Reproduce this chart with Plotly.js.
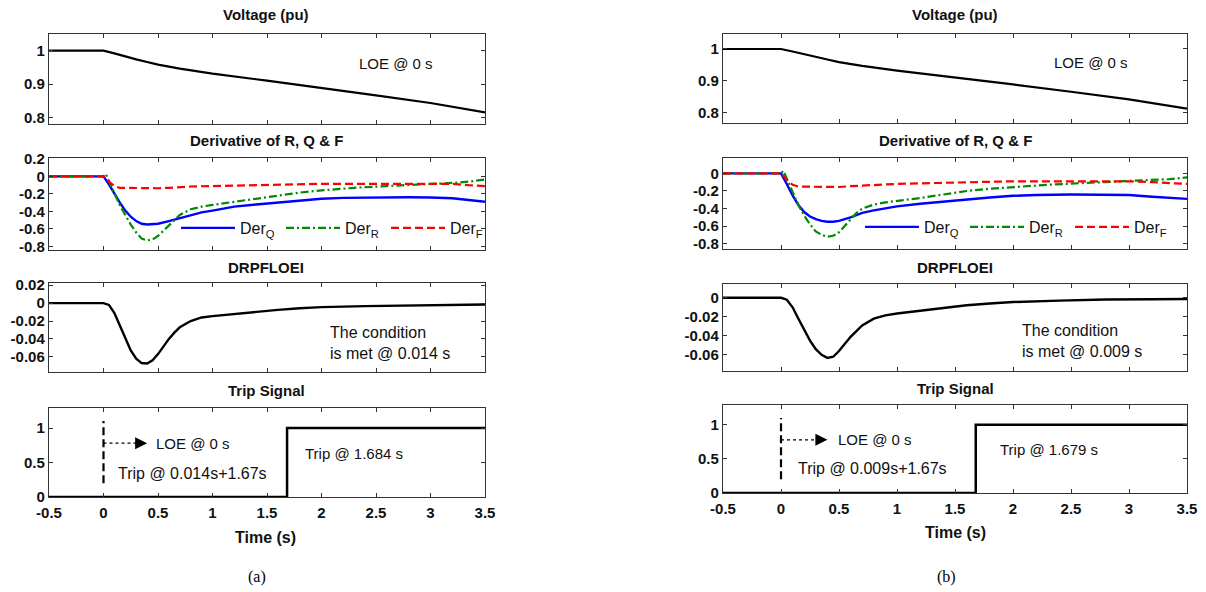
<!DOCTYPE html>
<html>
<head>
<meta charset="utf-8">
<script src="https://cdn.plot.ly/plotly-3.0.1.min.js"></script>
<style>html,body{margin:0;padding:0;background:#fff;}#chart{width:1206px;height:592px;}</style>
</head>
<body>
<div id="chart"></div>
<script>
// ---------------- DATA ----------------
const xTickVals = [-0.5, 0, 0.5, 1, 1.5, 2, 2.5, 3, 3.5];
const xTickText = ['-0.5', '0', '0.5', '1', '1.5', '2', '2.5', '3', '3.5'];
const vTickVals = [0.8, 0.9, 1];
const vTickText = ['0.8', '0.9', '1'];
const derTickValsA = [-0.8, -0.6, -0.4, -0.2, 0, 0.2];
const derTickTextA = ['-0.8', '-0.6', '-0.4', '-0.2', '0', '0.2'];
const derTickValsB = [-0.8, -0.6, -0.4, -0.2, 0];
const derTickTextB = ['-0.8', '-0.6', '-0.4', '-0.2', '0'];
const drpTickValsA = [-0.06, -0.04, -0.02, 0, 0.02];
const drpTickTextA = ['-0.06', '-0.04', '-0.02', '0', '0.02'];
const drpTickValsB = [-0.06, -0.04, -0.02, 0];
const drpTickTextB = ['-0.06', '-0.04', '-0.02', '0'];
const tripTickVals = [0, 0.5, 1];
const tripTickText = ['0', '0.5', '1'];

// Voltage
const tVolt = [-0.5, 0, 0.1, 0.2, 0.3, 0.4, 0.5, 0.7, 1.0, 1.5, 2.0, 2.5, 3.0, 3.5];
const voltA = [1, 1, 0.992, 0.982, 0.974, 0.966, 0.958, 0.946, 0.931, 0.910, 0.889, 0.866, 0.843, 0.815];
const voltB = [1, 1, 0.992, 0.983, 0.975, 0.967, 0.959, 0.947, 0.932, 0.911, 0.889, 0.866, 0.842, 0.813];

// Derivatives
const tDerQ = [-0.5, 0, 0.05, 0.1, 0.15, 0.2, 0.25, 0.3, 0.35, 0.4, 0.45, 0.5, 0.6, 0.7, 0.8, 0.9, 1.0, 1.2, 1.4, 1.6, 1.8, 2.0, 2.2, 2.5, 2.8, 3.0, 3.2, 3.35, 3.5];
const derQA = [0, 0, -0.09, -0.2, -0.3, -0.39, -0.46, -0.51, -0.54, -0.548, -0.548, -0.54, -0.51, -0.475, -0.44, -0.41, -0.39, -0.345, -0.32, -0.298, -0.275, -0.255, -0.245, -0.238, -0.238, -0.24, -0.25, -0.27, -0.29];
const derQB = [0, 0, -0.12, -0.25, -0.36, -0.44, -0.49, -0.52, -0.54, -0.55, -0.55, -0.54, -0.5, -0.45, -0.42, -0.395, -0.375, -0.345, -0.32, -0.3, -0.275, -0.255, -0.245, -0.24, -0.24, -0.245, -0.265, -0.28, -0.29];

const tDerR = [-0.5, 0, 0.02, 0.05, 0.1, 0.15, 0.2, 0.25, 0.3, 0.35, 0.4, 0.45, 0.5, 0.55, 0.6, 0.65, 0.7, 0.8, 0.9, 1.0, 1.2, 1.4, 1.6, 1.8, 2.0, 2.3, 2.6, 3.0, 3.2, 3.35, 3.5];
const derRA = [0, 0, 0.03, -0.05, -0.2, -0.33, -0.44, -0.55, -0.64, -0.71, -0.73, -0.72, -0.68, -0.62, -0.55, -0.49, -0.44, -0.375, -0.345, -0.325, -0.29, -0.255, -0.215, -0.185, -0.16, -0.13, -0.11, -0.09, -0.075, -0.06, -0.035];
const derRB = [0, 0, 0.03, -0.06, -0.22, -0.36, -0.48, -0.58, -0.66, -0.7, -0.72, -0.71, -0.67, -0.6, -0.52, -0.45, -0.4, -0.355, -0.33, -0.315, -0.28, -0.24, -0.2, -0.175, -0.155, -0.13, -0.11, -0.09, -0.075, -0.065, -0.045];

const tDerF = [-0.5, 0, 0.05, 0.1, 0.15, 0.3, 0.5, 0.6, 0.8, 1.0, 1.3, 1.6, 2.0, 2.5, 3.0, 3.2, 3.35, 3.5];
const derFA = [0, 0, -0.06, -0.11, -0.13, -0.135, -0.135, -0.13, -0.115, -0.11, -0.1, -0.09, -0.085, -0.085, -0.08, -0.085, -0.1, -0.11];
const derFB = [0, 0, -0.07, -0.13, -0.15, -0.155, -0.155, -0.145, -0.13, -0.12, -0.11, -0.1, -0.09, -0.09, -0.09, -0.1, -0.11, -0.12];

// DRPFLOEI
const tDrp = [-0.5, 0, 0.05, 0.1, 0.15, 0.2, 0.25, 0.3, 0.35, 0.4, 0.45, 0.5, 0.55, 0.6, 0.65, 0.7, 0.8, 0.9, 1.0, 1.2, 1.4, 1.6, 1.8, 2.0, 2.4, 2.8, 3.2, 3.5];
const drpA = [0, 0, -0.002, -0.011, -0.025, -0.04, -0.053, -0.062, -0.067, -0.0675, -0.064, -0.057, -0.048, -0.040, -0.033, -0.027, -0.02, -0.016, -0.0145, -0.012, -0.0095, -0.0075, -0.0058, -0.0045, -0.0033, -0.0027, -0.0022, -0.0015];
const drpB = [0, 0, -0.002, -0.010, -0.022, -0.034, -0.045, -0.054, -0.060, -0.0632, -0.062, -0.056, -0.048, -0.041, -0.035, -0.029, -0.022, -0.0185, -0.0165, -0.0135, -0.0105, -0.0078, -0.006, -0.0045, -0.003, -0.0018, -0.0015, -0.0013];

// Trip signal
const tTripA = [-0.5, 1.684, 3.5];
const tTripB = [-0.5, 1.679, 3.5];
const tripSig = [0, 1, 1];
const loeTime = [0, 0];
const loeMarkY = [0.2, 1.1];
const arrowT = [0, 0.34];
const arrowY = [0.78, 0.78];

// ---------------- STYLE / LAYOUT ----------------
const FONT = 'Liberation Sans, Arial, sans-serif';
const W = 1206, H = 592;
const px = v => v / W;
const py = v => 1 - v / H;

const colA = [px(49), px(485)];
const colB = [px(723), px(1187)];
const rowsA = [[124, 34], [250, 158], [372, 283], [497, 408]];
const rowsB = [[123, 34], [249, 158], [371, 284], [493, 405]];

const tickFont = {family: FONT, size: 15, weight: 'bold', color: '#111'};
function xax(dom, anchor, labels) {
  return {domain: dom, anchor: anchor, range: [-0.5, 3.5], tickvals: xTickVals, ticktext: xTickText,
    showticklabels: labels, ticks: 'inside', ticklen: 4, tickcolor: '#333', showline: true,
    linecolor: '#333', linewidth: 1.2, mirror: 'ticks', showgrid: false, zeroline: false,
    tickfont: tickFont, ticklabelstandoff: 2, fixedrange: true};
}
function yax(dom, anchor, range, tv, tt) {
  return {domain: dom, anchor: anchor, range: range, tickvals: tv, ticktext: tt,
    ticks: 'inside', ticklen: 4, tickcolor: '#333', showline: true, linecolor: '#333',
    linewidth: 1.2, mirror: 'ticks', showgrid: false, zeroline: false, tickfont: tickFont,
    fixedrange: true};
}
const rowDom = r => [py(r[0]), py(r[1])];

const blue = '#0000ff', green = '#008a00', red = '#ff0000';
function line(x, y, xa, ya, color, width, dash, extra) {
  return Object.assign({type: 'scatter', mode: 'lines', x: x, y: y, xaxis: xa, yaxis: ya,
    line: {color: color, width: width, dash: dash || 'solid'}, showlegend: false,
    hoverinfo: 'skip'}, extra || {});
}

const traces = [
  line(tVolt, voltA, 'x', 'y', '#000', 2.2),
  line(tDerQ, derQA, 'x2', 'y2', blue, 2.4, 'solid', {name: 'Der<sub>Q</sub>', showlegend: true, legend: 'legend'}),
  line(tDerR, derRA, 'x2', 'y2', green, 2.2, '8px,3px,2px,3px', {name: 'Der<sub>R</sub>', showlegend: true, legend: 'legend'}),
  line(tDerF, derFA, 'x2', 'y2', red, 2.2, '8px,4px', {name: 'Der<sub>F</sub>', showlegend: true, legend: 'legend'}),
  line(tDrp, drpA, 'x3', 'y3', '#000', 2.4),
  line(tTripA, tripSig, 'x4', 'y4', '#000', 2.5, 'solid', {line: {color: '#000', width: 2.5, shape: 'hv'}, cliponaxis: false}),
  line(loeTime, loeMarkY, 'x4', 'y4', '#000', 2.2, '8px,4px'),
  line(arrowT, arrowY, 'x4', 'y4', '#000', 1.3, '3px,3px'),

  line(tVolt, voltB, 'x5', 'y5', '#000', 2.2),
  line(tDerQ, derQB, 'x6', 'y6', blue, 2.4, 'solid', {name: 'Der<sub>Q</sub>', showlegend: true, legend: 'legend2'}),
  line(tDerR, derRB, 'x6', 'y6', green, 2.2, '8px,3px,2px,3px', {name: 'Der<sub>R</sub>', showlegend: true, legend: 'legend2'}),
  line(tDerF, derFB, 'x6', 'y6', red, 2.2, '8px,4px', {name: 'Der<sub>F</sub>', showlegend: true, legend: 'legend2'}),
  line(tDrp, drpB, 'x7', 'y7', '#000', 2.4),
  line(tTripB, tripSig, 'x8', 'y8', '#000', 2.5, 'solid', {line: {color: '#000', width: 2.5, shape: 'hv'}, cliponaxis: false}),
  line(loeTime, loeMarkY, 'x8', 'y8', '#000', 2.2, '8px,4px'),
  line(arrowT, arrowY, 'x8', 'y8', '#000', 1.3, '3px,3px')
];

const titleFont = {family: FONT, size: 15, weight: 'bold', color: '#111'};
const annFont = {family: FONT, size: 15, color: '#111'};
const annFontL = {family: FONT, size: 16, color: '#111'};
function paperText(text, x, y, font, extra) {
  return Object.assign({text: text, x: x, y: y, xref: 'paper', yref: 'paper', showarrow: false,
    xanchor: 'center', yanchor: 'middle', font: font}, extra || {});
}
function dataText(text, x, y, xa, ya, extra) {
  return Object.assign({text: text, x: x, y: y, xref: xa, yref: ya, showarrow: false,
    xanchor: 'center', yanchor: 'middle', font: annFont}, extra || {});
}

const annotations = [];
const panelTitles = ['Voltage (pu)', 'Derivative of R, Q &amp; F', 'DRPFLOEI', 'Trip Signal'];
const titleYA = [15, 140, 268, 390];
const titleYB = [15, 140, 268, 388];
panelTitles.forEach((t, i) => {
  annotations.push(paperText(t, px(266), py(titleYA[i]), titleFont));
  annotations.push(paperText(t, px(955), py(titleYB[i]), titleFont));
});
const axFont = {family: FONT, size: 16, weight: 'bold', color: '#111'};
annotations.push(paperText('Time (s)', px(265), py(537), axFont));
annotations.push(paperText('Time (s)', px(955), py(532), axFont));
const capFont = {family: 'Liberation Serif, Times New Roman, serif', size: 16, color: '#000'};
annotations.push(paperText('(a)', px(257), py(577), capFont));
annotations.push(paperText('(b)', px(946), py(577), capFont));

// in-panel texts
annotations.push(dataText('LOE @ 0 s', 2.68, 0.962, 'x', 'y'));
annotations.push(dataText('LOE @ 0 s', 2.675, 0.958, 'x5', 'y5'));
annotations.push(dataText('The condition<br>is met @ 0.014 s', 2.06, -0.045, 'x3', 'y3', {xanchor: 'left', align: 'left', font: annFontL}));
annotations.push(dataText('The condition<br>is met @ 0.009 s', 2.06, -0.045, 'x7', 'y7', {xanchor: 'left', align: 'left', font: annFontL}));
annotations.push(dataText('LOE @ 0 s', 0.46, 0.78, 'x4', 'y4', {xanchor: 'left'}));
annotations.push(dataText('LOE @ 0 s', 0.47, 0.78, 'x8', 'y8', {xanchor: 'left'}));
annotations.push(dataText('Trip @ 0.014s+1.67s', 0.82, 0.34, 'x4', 'y4', {font: annFontL}));
annotations.push(dataText('Trip @ 0.009s+1.67s', 0.79, 0.355, 'x8', 'y8', {font: annFontL}));
annotations.push(dataText('Trip @ 1.684 s', 2.30, 0.63, 'x4', 'y4'));
annotations.push(dataText('Trip @ 1.679 s', 2.31, 0.636, 'x8', 'y8'));
// arrow heads
[['x4', 'y4'], ['x8', 'y8']].forEach(([xa, ya]) => {
  annotations.push({x: 0.40, y: 0.78, ax: 0.30, ay: 0.78, xref: xa, yref: ya, axref: xa, ayref: ya,
    text: '', showarrow: true, arrowhead: 2, arrowsize: 1.6, arrowwidth: 1.5, arrowcolor: '#000'});
});

const legendBase = {orientation: 'h', bgcolor: 'rgba(0,0,0,0)', borderwidth: 0,
  font: {family: FONT, size: 16, color: '#111'}, xanchor: 'left', yanchor: 'middle',
  entrywidth: 36, entrywidthmode: 'pixels', itemwidth: 54, tracegroupgap: 0};

const layout = {
  width: W, height: H, margin: {l: 0, r: 0, t: 0, b: 0},
  paper_bgcolor: '#fff', plot_bgcolor: '#fff', showlegend: true,
  legend: Object.assign({}, legendBase, {x: px(176), y: py(228)}),
  legend2: Object.assign({}, legendBase, {x: px(860), y: py(227)}),
  xaxis: xax(colA, 'y', false),
  xaxis2: xax(colA, 'y2', false),
  xaxis3: xax(colA, 'y3', false),
  xaxis4: xax(colA, 'y4', true),
  xaxis5: xax(colB, 'y5', false),
  xaxis6: xax(colB, 'y6', false),
  xaxis7: xax(colB, 'y7', false),
  xaxis8: xax(colB, 'y8', true),
  yaxis: yax(rowDom(rowsA[0]), 'x', [0.78, 1.05], vTickVals, vTickText),
  yaxis2: yax(rowDom(rowsA[1]), 'x2', [-0.84, 0.21], derTickValsA, derTickTextA),
  yaxis3: yax(rowDom(rowsA[2]), 'x3', [-0.077, 0.0225], drpTickValsA, drpTickTextA),
  yaxis4: yax(rowDom(rowsA[3]), 'x4', [0, 1.29], tripTickVals, tripTickText),
  yaxis5: yax(rowDom(rowsB[0]), 'x5', [0.768, 1.047], vTickVals, vTickText),
  yaxis6: yax(rowDom(rowsB[1]), 'x6', [-0.86, 0.175], derTickValsB, derTickTextB),
  yaxis7: yax(rowDom(rowsB[2]), 'x7', [-0.077, 0.0145], drpTickValsB, drpTickTextB),
  yaxis8: yax(rowDom(rowsB[3]), 'x8', [0, 1.29], tripTickVals, tripTickText),
  annotations: annotations
};

Plotly.newPlot('chart', traces, layout, {staticPlot: true, displayModeBar: false});
</script>
</body>
</html>
